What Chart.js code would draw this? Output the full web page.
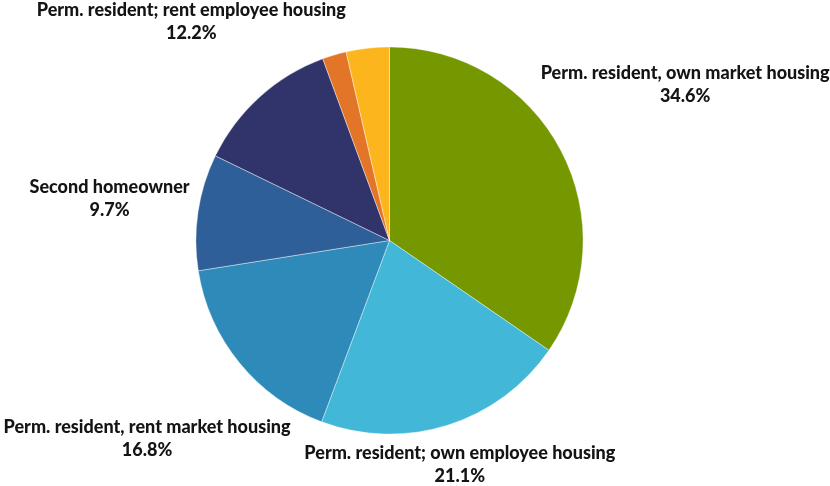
<!DOCTYPE html>
<html>
<head>
<meta charset="utf-8">
<script src="https://cdn.jsdelivr.net/npm/chart.js@4"></script>
<style>
  html, body { margin: 0; padding: 0; background: #ffffff; }
  #wrap { width: 830px; height: 486px; position: relative; }
</style>
</head>
<body>
<div id="wrap"><canvas id="c" width="830" height="486"></canvas></div>
<script>
const categories = [
  "Perm. resident, own market housing",
  "Perm. resident; own employee housing",
  "Perm. resident, rent market housing",
  "Second homeowner",
  "Perm. resident; rent employee housing",
  "Other",
  "Unknown"
];
const shares = [34.6, 21.1, 16.8, 9.7, 12.2, 2.0, 3.6];
const shownLabels = [true, true, true, true, true, false, false];
const colors = ["#759800", "#43b7d7", "#2e8bb9", "#2f5f98", "#31346b", "#e37528", "#fdb51d"];

const FONT = "900 18px Lato, 'DejaVu Sans', sans-serif";
const LINE_H = 23;
const GAP = 7;

const outsideLabels = {
  id: 'outsideLabels',
  afterDatasetsDraw(chart) {
    const ctx = chart.ctx;
    const meta = chart.getDatasetMeta(0);
    ctx.save();
    ctx.font = FONT;
    ctx.fillStyle = '#141414';
    ctx.textAlign = 'center';
    ctx.textBaseline = 'middle';
    meta.data.forEach((arc, i) => {
      if (!shownLabels[i]) return;
      const p = arc.getProps(['x', 'y', 'startAngle', 'endAngle', 'outerRadius'], true);
      const mid = (p.startAngle + p.endAngle) / 2;
      const ux = Math.cos(mid), uy = Math.sin(mid);
      const l1 = categories[i];
      const l2 = shares[i].toFixed(1) + '%';
      const w = Math.max(ctx.measureText(l1).width, ctx.measureText(l2).width);
      const h = LINE_H * 2;
      const need = p.outerRadius + GAP;
      let t = 0, cx = p.x, cy = p.y;
      for (; t < 800; t += 0.5) {
        cx = p.x + ux * t; cy = p.y + uy * t;
        const nx = Math.max(cx - w / 2, Math.min(p.x, cx + w / 2));
        const ny = Math.max(cy - h / 2, Math.min(p.y, cy + h / 2));
        if (Math.hypot(nx - p.x, ny - p.y) >= need) break;
      }
      ctx.fillText(l1, cx, cy - LINE_H / 2);
      ctx.fillText(l2, cx, cy + LINE_H / 2);
    });
    ctx.restore();
  }
};

new Chart(document.getElementById('c'), {
  type: 'pie',
  data: {
    labels: categories,
    datasets: [{
      data: shares,
      backgroundColor: colors,
      borderColor: 'rgba(255,255,255,0.5)',
      borderWidth: 0.8
    }]
  },
  options: {
    responsive: false,
    animation: false,
    rotation: 0,
    layout: { padding: { top: 46.5, bottom: 51.5, left: 0, right: 51 } },
    plugins: {
      legend: { display: false },
      tooltip: { enabled: false },
      title: { display: false }
    }
  },
  plugins: [outsideLabels]
});
</script>
</body>
</html>
